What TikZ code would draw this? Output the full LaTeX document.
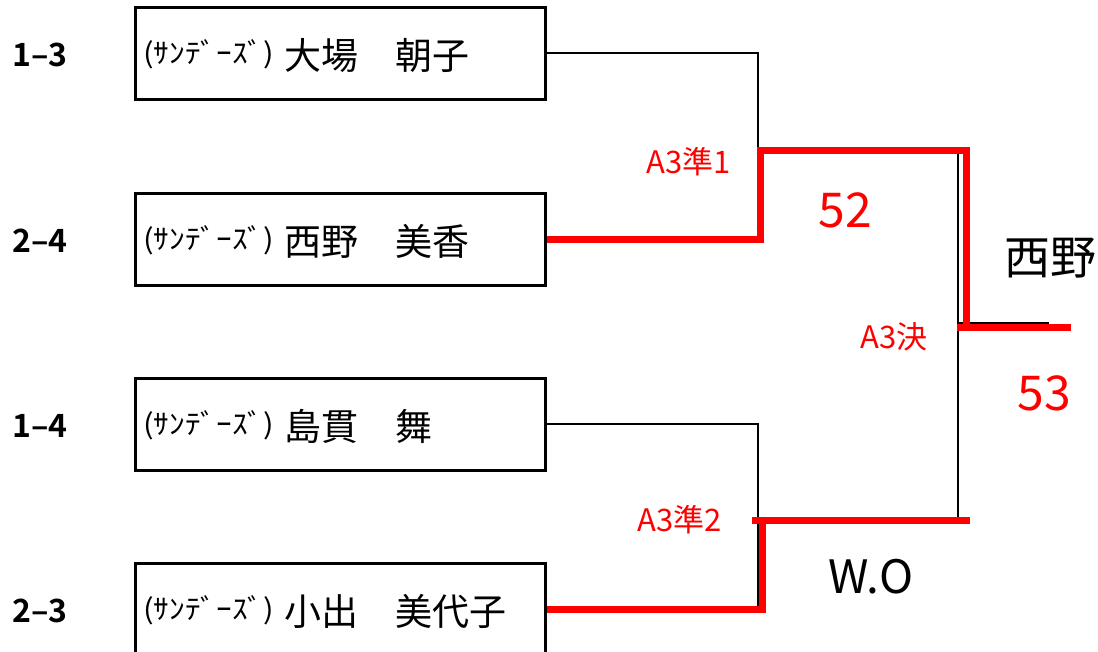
\documentclass[tikz,border=0pt]{standalone}
\usepackage{fontspec}
\setmainfont{Noto Sans CJK JP}
\newfontfamily\jpbold{Noto Sans CJK JP Bold}
\newcommand{\teamname}{\scalebox{1.12}[1]{(ｻﾝﾃﾞｰｽﾞ)}}
\begin{document}
\begin{tikzpicture}[x=1pt,y=-1pt,
  player/.style={draw=black,line width=3pt,minimum width=410pt,minimum height=92pt,inner sep=0pt},
  seed/.style={font=\jpbold\fontsize{32}{32}\selectfont,text=black},
  team/.style={anchor=west,font=\fontsize{28}{28}\selectfont,inner sep=0pt},
  pname/.style={anchor=west,font=\fontsize{37}{37}\selectfont,inner sep=0pt},
  thinline/.style={draw=black,line width=1.5pt},
  winline/.style={draw=red,line width=7pt},
  redlbl/.style={text=red,font=\fontsize{31}{31}\selectfont,inner sep=0pt},
  bigred/.style={text=red,font=\fontsize{48}{48}\selectfont,inner sep=0pt},
  bigblk/.style={text=black,font=\fontsize{46}{46}\selectfont,inner sep=0pt}]
\useasboundingbox (0,0) rectangle (1098,651);
\clip (0,0) rectangle (1098,651);
% player boxes
\node[player] (box1) at (340,53) {};
\node[player] (box2) at (340,239) {};
\node[player] (box3) at (340,424) {};
\node[player] (box4) at (340,609) {};
% seeds
\node[seed] (n1) at (40,55) {1–3};
\node[seed] (n2) at (40,241) {2–4};
\node[seed] (n3) at (40,426) {1–4};
\node[seed] (n4) at (40,611) {2–3};
% team and names
\node[team] (t1) at (143,54) {\teamname};
\node[team] (t2) at (143,240) {\teamname};
\node[team] (t3) at (143,425) {\teamname};
\node[team] (t4) at (143,610) {\teamname};
\node[pname] (p1) at (284,55) {大場　朝子};
\node[pname] (p2) at (284,241) {西野　美香};
\node[pname] (p3) at (284,426) {島貫　舞};
\node[pname] (p4) at (284,611) {小出　美代子};
% junctions
\coordinate (s1) at (760,150);
\coordinate (s1b) at (758,150);
\coordinate (s2) at (762,520);
\coordinate (s2l) at (752,520);
\coordinate (s2b) at (758,609);
\coordinate (ftop) at (966,150);
\coordinate (fl) at (957,327);
\coordinate (win) at (1071,327);
\coordinate (fb) at (970,522);
\coordinate (vt) at (958,150);
\coordinate (vb) at (958,520);
\coordinate (hl) at (958,323);
\coordinate (hr) at (1049,323);
% black lines
\draw[thinline] (box1.east) -| (s1b);
\draw[thinline] (box3.east) -| (s2b);
\draw[thinline] (vt) -- (vb);
\draw[thinline] (hl) -- (hr);
% red winner lines
\draw[winline] (box2.east) -| (s1) -- (ftop) -- (ftop |- fl);
\draw[winline] (fl) -- (win);
\draw[winline] (box4.east) -| (s2);
\draw[winline] (s2l) -- (s2 -| fb);
% labels
\node[redlbl] (m1) at (689,162) {A3準1};
\node[redlbl] (m2) at (680,520) {A3準2};
\node[redlbl] (mf) at (894,337) {A3決};
\node[bigred] (sc1) at (845,210) {52};
\node[bigred] (sc2) at (1044,393) {53};
\node[bigblk] (w) at (1050,258) {西野};
\node[bigblk] (wo) at (871,577) {W.O};
\end{tikzpicture}
\end{document}
